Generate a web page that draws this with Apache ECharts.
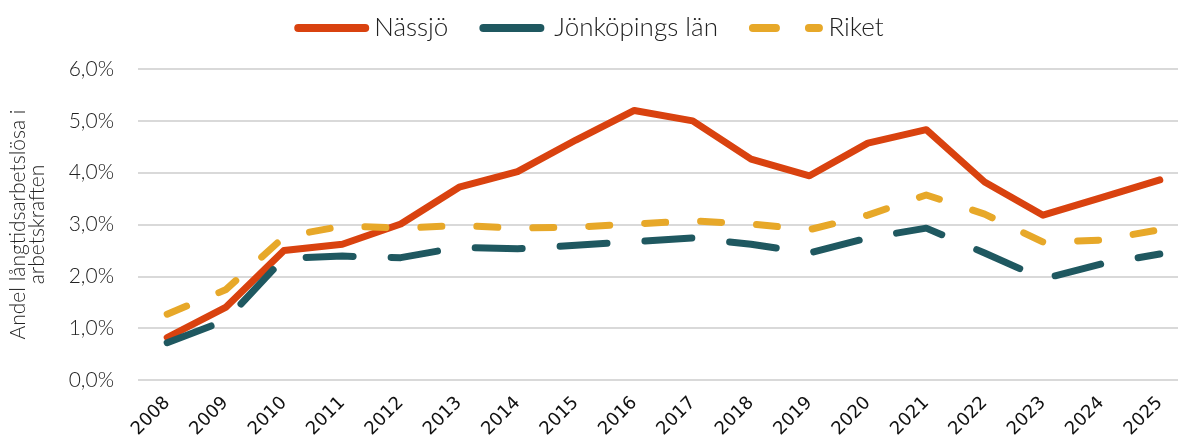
<!DOCTYPE html>
<html>
<head>
<meta charset="utf-8">
<script src="https://cdn.jsdelivr.net/npm/echarts@6/dist/echarts.min.js"></script>
<style>html,body{margin:0;padding:0;background:#fff}#c{width:1178px;height:448px}</style>
</head>
<body>
<div id="c"></div>
<script>
const years = ['2008','2009','2010','2011','2012','2013','2014','2015','2016','2017','2018','2019','2020','2021','2022','2023','2024','2025'];
const nassjo = [0.82,1.40,2.50,2.62,3.01,3.72,4.02,4.63,5.20,5.00,4.26,3.94,4.57,4.83,3.82,3.18,3.52,3.86];
const jonkoping = [0.72,1.15,2.35,2.39,2.36,2.56,2.53,2.60,2.67,2.74,2.62,2.45,2.74,2.93,2.45,1.95,2.24,2.43];
const riket = [1.27,1.74,2.76,2.97,2.93,2.98,2.93,2.95,3.01,3.07,3.01,2.90,3.18,3.57,3.20,2.66,2.70,2.90];

const redIcon = 'path://M4,0H71A4,4 0 0 1 71,8H4A4,4 0 0 1 4,0Z';
const tealIcon = 'path://M4,0H61A4,4 0 0 1 61,8H4A4,4 0 0 1 4,0Z';
const dashIcon = 'path://M4,0H27A4,4 0 0 1 27,8H4A4,4 0 0 1 4,0ZM60,0H70A4,4 0 0 1 70,8H60A4,4 0 0 1 60,0Z';

const chart = echarts.init(document.getElementById('c'));
const mk = (name, data, color, type) => ({
  name, type: 'line', data, symbol: 'none', smooth: false,
  lineStyle: { color, width: 7, type, cap: 'round', join: 'round' },
  itemStyle: { color }
});
chart.setOption({
  animation: false,
  textStyle: { fontFamily: 'Lato' },
  legend: {
    top: 10, left: 'center', itemWidth: 75, itemHeight: 8, itemGap: 31, symbolKeepAspect: true,
    textStyle: { fontSize: 26, color: '#222', fontFamily: 'Lato', fontWeight: 300 },
    data: [
      { name: 'Nässjö', icon: redIcon },
      { name: 'Jönköpings län', icon: tealIcon },
      { name: 'Riket', icon: dashIcon }
    ]
  },
  grid: { left: 138, width: 1051, top: 69, bottom: 68, containLabel: false, outerBoundsMode: 'none' },
  xAxis: {
    type: 'category', data: years, boundaryGap: true,
    axisLine: { show: false }, axisTick: { show: false },
    axisLabel: { rotate: 45, fontSize: 18, color: '#111', fontFamily: 'DejaVu Sans', margin: 20, interval: 0 }
  },
  yAxis: {
    type: 'value', min: 0, max: 6, interval: 1,
    name: 'Andel långtidsarbetslösa i\narbetskraften', nameLocation: 'middle', nameGap: 91, nameRotate: 90,
    nameTextStyle: { fontSize: 21, color: '#222', fontFamily: 'Lato', fontWeight: 300, lineHeight: 19 },
    axisLine: { show: false }, axisTick: { show: false },
    axisLabel: { fontSize: 21, color: '#222', fontFamily: 'Lato', fontWeight: 300, margin: 24,
      formatter: v => v.toFixed(1).replace('.', ',') + '%' },
    splitLine: { lineStyle: { color: '#d9d9d9', width: 2 } }
  },
  series: [
    mk('Nässjö', nassjo, '#D9420F', 'solid'),
    mk('Jönköpings län', jonkoping, '#1F5860', [47, 38]),
    mk('Riket', riket, '#E7A829', [21, 35])
  ]
});
</script>
</body>
</html>
